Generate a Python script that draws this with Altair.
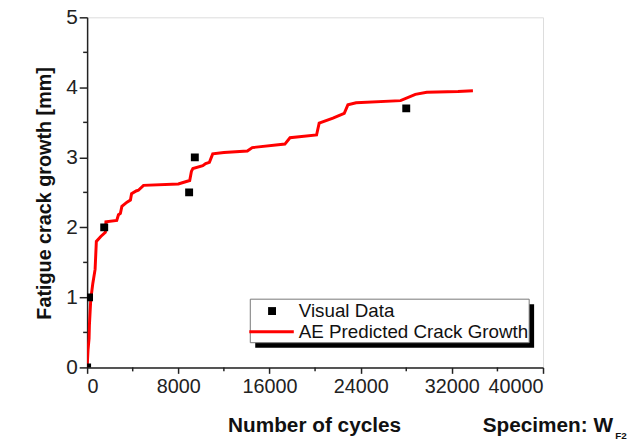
import altair as alt
import pandas as pd

# Visual data (squares)
visual_x = [0, 170, 1500, 8950, 9450, 28000]
visual_y = [0.0, 1.0, 2.0, 2.5, 3.0, 3.7]

# AE predicted crack growth (red line)
line_x = [0, 80, 170, 200, 320, 500, 700, 810, 1200, 1600, 1650, 2600, 2750, 2920,
          3050, 3500, 3800, 3900, 4300, 4500, 4950, 8000, 9000, 9150, 9280, 10150,
          10400, 10730, 11020, 12000, 14060, 14490, 17350, 17800, 20130, 20360,
          21570, 22560, 22880, 23600, 27500, 28800, 29800, 32540, 33850]
line_y = [0.0, 0.25, 0.41, 0.6, 0.97, 1.2, 1.4, 1.8, 1.87, 1.93, 2.08, 2.1, 2.18, 2.2,
          2.3, 2.36, 2.39, 2.48, 2.52, 2.53, 2.6, 2.62, 2.67, 2.8, 2.84, 2.88,
          2.91, 2.93, 3.05, 3.07, 3.09, 3.14, 3.19, 3.28, 3.32, 3.49,
          3.56, 3.63, 3.75, 3.78, 3.81, 3.9, 3.93, 3.94, 3.95]

x_ticks = [0, 8000, 16000, 24000, 32000, 40000]
y_ticks = [0, 1, 2, 3, 4, 5]
x_minor = [4000, 12000, 20000, 28000, 36000]
y_minor = [0.5, 1.5, 2.5, 3.5, 4.5]

W, H = 461, 354
FONT = "Liberation Sans"

pts = pd.DataFrame({"x": visual_x, "y": visual_y})
ln = pd.DataFrame({"x": line_x, "y": line_y, "i": range(len(line_x))})

xs = alt.Scale(domain=[0, 40000], nice=False, zero=False)
ys = alt.Scale(domain=[0, 5], nice=False, zero=False)

xaxis = alt.Axis(values=x_ticks, title=None, grid=False, labelFont=FONT, labelFontSize=20,
                 labelColor="#222", tickColor="#222", domainColor="#222", domainWidth=1.5,
                 tickWidth=1.5, tickSize=6, labelPadding=3, format="d")
yaxis = alt.Axis(values=y_ticks, title=None, grid=False, labelFont=FONT, labelFontSize=21,
                 labelColor="#222", tickColor="#222", domainColor="#222", domainWidth=1.5,
                 tickWidth=1.5, tickSize=8, labelPadding=2, format="d")

line = alt.Chart(ln).mark_line(color="#ff0000", strokeWidth=3, clip=True).encode(
    x=alt.X("x:Q", scale=xs, axis=xaxis),
    y=alt.Y("y:Q", scale=ys, axis=yaxis),
    order="i:Q",
)
points = alt.Chart(pts).mark_point(shape="square", filled=True, color="black", size=64,
                                    opacity=1, clip=True).encode(
    x=alt.X("x:Q", scale=xs),
    y=alt.Y("y:Q", scale=ys),
)

xminor = alt.Chart(pd.DataFrame({"x": x_minor})).mark_rule(color="#222", strokeWidth=1.5).encode(
    x=alt.X("x:Q", scale=xs), y=alt.value(H), y2=alt.value(H + 4))
yminor = alt.Chart(pd.DataFrame({"y": y_minor})).mark_rule(color="#222", strokeWidth=1.5).encode(
    y=alt.Y("y:Q", scale=ys), x=alt.value(-4), x2=alt.value(0))

one = alt.Data(values=[{"a": 1}])

def txt(s, x, y, size, bold=False, align="left", angle=0, baseline="middle"):
    kw = dict(font=FONT, fontSize=size, fontWeight="bold" if bold else "normal",
              align=align, baseline=baseline, color="#111")
    if angle:
        kw["angle"] = angle
    return alt.Chart(one).mark_text(**kw).encode(
        x=alt.value(x), y=alt.value(y), text=alt.value(s))

# legend
leg_shadow = alt.Chart(one).mark_rect(color="black").encode(
    x=alt.value(170), x2=alt.value(452), y=alt.value(290), y2=alt.value(334))
leg_box = alt.Chart(one).mark_rect(fill="white", stroke="#777", strokeWidth=1).encode(
    x=alt.value(165), x2=alt.value(447), y=alt.value(285), y2=alt.value(329))
leg_sq = alt.Chart(one).mark_point(shape="square", filled=True, color="black", size=64, opacity=1).encode(
    x=alt.value(187), y=alt.value(297))
leg_line = alt.Chart(one).mark_rule(color="#ff0000", strokeWidth=3).encode(
    x=alt.value(164), x2=alt.value(209), y=alt.value(318))
leg_t1 = txt("Visual Data", 214, 297, 19)
leg_t2 = txt("AE Predicted Crack Growth", 214, 318, 19)

ytitle = txt("Fatigue crack growth [mm]", -43, 178, 20, bold=True, align="center", angle=270)
xtitle = txt("Number of cycles", 230, 419, 21, bold=True, align="center", baseline="alphabetic")
spec = txt("Specimen: W", 400, 419, 21, bold=True, baseline="alphabetic")
sub = txt("F2", 534, 426, 10, bold=True, baseline="alphabetic")

chart = alt.layer(
    xminor, yminor, line, points,
    leg_shadow, leg_box, leg_sq, leg_line, leg_t1, leg_t2,
    ytitle, xtitle, spec, sub,
).properties(
    width=W, height=H,
    autosize=alt.AutoSizeParams(type="none"),
    padding={"left": 80, "top": 7, "right": 92, "bottom": 75},
).configure_view(stroke="#222", strokeWidth=1.5).configure(background="white")

chart.save("out.html", embed_options={"renderer": "svg", "actions": False})
